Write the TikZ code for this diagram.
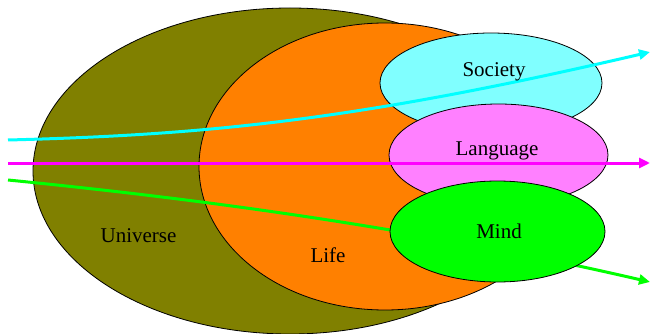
\documentclass[tikz,border=0pt]{standalone}
\usepackage{fontspec}
\setmainfont{Liberation Serif}
\newfontfamily\timesfam{Liberation Serif}
\usetikzlibrary{shapes.geometric,arrows.meta}
\definecolor{olivefill}{HTML}{808000}
\definecolor{orangefill}{HTML}{FF8000}
\definecolor{cyanfill}{HTML}{80FFFF}
\definecolor{pinkfill}{HTML}{FF80FF}
\definecolor{greenfill}{HTML}{00FF00}
\definecolor{cyanline}{HTML}{00FFFF}
\definecolor{magline}{HTML}{FF00FF}
\definecolor{greenline}{HTML}{00FF00}
\tikzset{
  blob/.style={ellipse, draw=black, line width=0.8pt, inner sep=0pt},
  lbl/.style={anchor=base, inner sep=0pt, font=\timesfam\fontsize{21}{25}\selectfont},
  flow/.style={line width=3pt, -{Triangle[length=11pt,width=10pt]}},
}
\begin{document}
\begin{tikzpicture}[x=1pt,y=-1pt]
\useasboundingbox (0,0) rectangle (650,334);
% ellipses
\node[blob, fill=olivefill, minimum width=514pt, minimum height=326pt] (universe) at (290,171) {};
\node[blob, fill=orangefill, minimum width=372pt, minimum height=287pt] (life) at (385,166.5) {};
\node[blob, fill=cyanfill, minimum width=222pt, minimum height=100pt] (society) at (491,83) {};
\node[blob, fill=pinkfill, minimum width=219pt, minimum height=102pt] (language) at (498.5,155) {};
% flows
\coordinate (cs) at (8,140);
\coordinate (ce) at (650,52);
\coordinate (ms) at (8,163);
\coordinate (me) at (650,163);
\coordinate (gs) at (8,180);
\coordinate (ge) at (650,282);
\draw[flow, cyanline] (cs) .. controls (200,135) and (350,122) .. (ce);
\draw[flow, magline] (ms) -- (me);
\draw[flow, greenline] (gs) .. controls (220,201) and (430,231) .. (ge);
\node[blob, fill=greenfill, minimum width=215pt, minimum height=101pt] (mind) at (497.5,231.5) {};
% labels
\node[lbl] (tuniverse) at (138.5,242) {Universe};
\node[lbl] (tlife) at (328,262) {Life};
\node[lbl] (tsociety) at (494,77) {Society};
\node[lbl] (tlanguage) at (497,155) {Language};
\node[lbl] (tmind) at (499,238) {Mind};
\end{tikzpicture}
\end{document}
